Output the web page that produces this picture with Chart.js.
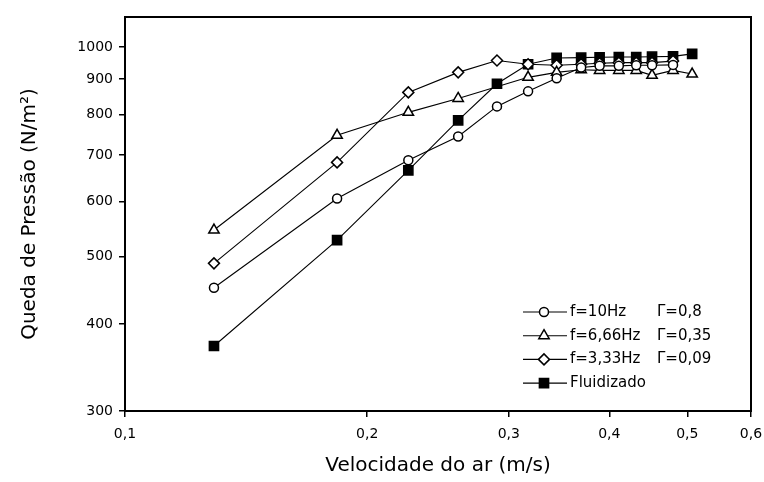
<!DOCTYPE html>
<html lang="pt">
<head>
<meta charset="utf-8">
<script src="https://cdn.jsdelivr.net/npm/chart.js@4.4.1/dist/chart.umd.min.js"></script>
<style>
  body { margin: 0; background: #fff; }
  #wrap { width: 764px; height: 482px; }
</style>
</head>
<body>
<div id="wrap"><canvas id="queda-chart"></canvas></div>
<script>
  // velocidade do ar (m/s) e queda de pressao (N/m2)
  const vel10    = [0.129, 0.1835, 0.225, 0.2595, 0.29, 0.317, 0.344, 0.369, 0.389, 0.411, 0.432, 0.452, 0.48];
  const queda10  = [451, 606, 688, 744, 822, 864, 902, 935, 940, 940, 942, 942, 943];

  const vel666   = [0.129, 0.1835, 0.225, 0.2595, 0.317, 0.344, 0.369, 0.389, 0.411, 0.432, 0.452, 0.48, 0.507];
  const queda666 = [546, 747, 806, 844, 905, 920, 928, 926, 926, 926, 911, 926, 915];

  const vel333   = [0.129, 0.1835, 0.225, 0.2595, 0.29, 0.317, 0.344, 0.369, 0.389, 0.411, 0.432, 0.452, 0.48];
  const queda333 = [489, 683, 861, 920, 957, 945, 942, 945, 948, 950, 950, 950, 955];

  const velFlu   = [0.129, 0.1835, 0.225, 0.2595, 0.29, 0.317, 0.344, 0.369, 0.389, 0.411, 0.432, 0.452, 0.48, 0.507];
  const quedaFlu = [372, 528, 665, 785, 886, 945, 965, 966, 967, 968, 968, 969, 970, 978];

  const labels = ['f=10Hz', 'f=6,66Hz', 'f=3,33Hz', 'Fluidizado'];
  const gammas = ['\u0393=0,8', '\u0393=0,35', '\u0393=0,09', ''];

  const xTicks = [0.1, 0.2, 0.3, 0.4, 0.5, 0.6];
  const yTicks = [300, 400, 500, 600, 700, 800, 900, 1000];

  const FONT = 'DejaVu Sans';

  function pts(xs, ys) {
    return xs.map((x, i) => ({x: x, y: ys[i]}));
  }

  function serie(label, xs, ys, style, radius, fill) {
    return {
      label: label,
      data: pts(xs, ys),
      borderColor: '#000',
      borderWidth: 1.1,
      pointStyle: style,
      pointRadius: radius,
      pointBorderWidth: 1.5,
      pointBorderColor: '#000',
      pointBackgroundColor: fill,
      tension: 0
    };
  }

  // legenda dentro do grafico + moldura
  const legendBox = {
    id: 'legendBox',
    afterDatasetsDraw(chart) {
      const ctx = chart.ctx;
      const a = chart.chartArea;
      ctx.save();
      ctx.lineWidth = 2;
      ctx.strokeStyle = '#000';
      ctx.strokeRect(a.left, a.top, a.right - a.left, a.bottom - a.top);

      const x0 = a.left + 398, y0 = a.top + 295;
      chart.data.datasets.forEach((ds, i) => {
        const y = y0 + i * 23.7;
        ctx.strokeStyle = '#000';
        ctx.lineWidth = 1.1;
        ctx.beginPath();
        ctx.moveTo(x0, y);
        ctx.lineTo(x0 + 44, y);
        ctx.stroke();
        ctx.fillStyle = ds.pointBackgroundColor;
        ctx.lineWidth = ds.pointBorderWidth;
        Chart.helpers.drawPoint(ctx, {pointStyle: ds.pointStyle, rotation: 0, radius: ds.pointRadius, borderWidth: ds.pointBorderWidth}, x0 + 21, y);
        ctx.fillStyle = '#000';
        ctx.font = '15px "' + FONT + '"';
        ctx.textBaseline = 'middle';
        ctx.textAlign = 'left';
        ctx.fillText(ds.label, x0 + 47, y);
        if (gammas[i]) ctx.fillText(gammas[i], x0 + 134, y);
      });
      ctx.restore();
    }
  };

  new Chart(document.getElementById('queda-chart'), {
    type: 'line',
    data: {
      datasets: [
        serie(labels[0], vel10, queda10, 'circle', 4.5, '#fff'),
        serie(labels[1], vel666, queda666, 'triangle', 6, '#fff'),
        serie(labels[2], vel333, queda333, 'rectRot', 5.5, '#fff'),
        serie(labels[3], velFlu, quedaFlu, 'rect', 6.5, '#000')
      ]
    },
    options: {
      responsive: true,
      maintainAspectRatio: false,
      animation: false,
      layout: { padding: { top: 17, right: 13, left: 0, bottom: 0 } },
      plugins: { legend: { display: false }, tooltip: { enabled: false } },
      scales: {
        x: {
          type: 'logarithmic',
          min: 0.1,
          max: 0.6,
          afterBuildTicks: s => { s.ticks = xTicks.map(v => ({value: v})); },
          afterFit: s => { s.height = 71; s.paddingLeft = 0; s.paddingRight = 0; },
          ticks: {
            callback: v => String(v).replace('.', ','),
            autoSkip: false,
            maxRotation: 0,
            color: '#000',
            padding: 9,
            font: { family: FONT, size: 14 }
          },
          grid: { drawOnChartArea: false, drawTicks: true, tickLength: 6, color: '#000', lineWidth: 1.5 },
          border: { color: '#000', width: 2 },
          title: {
            display: true,
            text: 'Velocidade do ar (m/s)',
            color: '#000',
            font: { family: FONT, size: 20 },
            padding: { top: 0, bottom: 4 }
          }
        },
        y: {
          type: 'logarithmic',
          min: 300,
          max: 1105,
          afterBuildTicks: s => { s.ticks = yTicks.map(v => ({value: v})); },
          afterFit: s => { s.width = 125; s.paddingTop = 0; s.paddingBottom = 0; },
          ticks: {
            callback: v => String(v),
            autoSkip: false,
            color: '#000',
            padding: 6,
            font: { family: FONT, size: 14 }
          },
          grid: { drawOnChartArea: false, drawTicks: true, tickLength: 6, color: '#000', lineWidth: 1.5 },
          border: { color: '#000', width: 2 },
          title: {
            display: true,
            text: 'Queda de Pressão (N/m²)',
            color: '#000',
            font: { family: FONT, size: 20 },
            padding: { top: 18, bottom: 0 }
          }
        }
      }
    },
    plugins: [legendBox]
  });
</script>
</body>
</html>
